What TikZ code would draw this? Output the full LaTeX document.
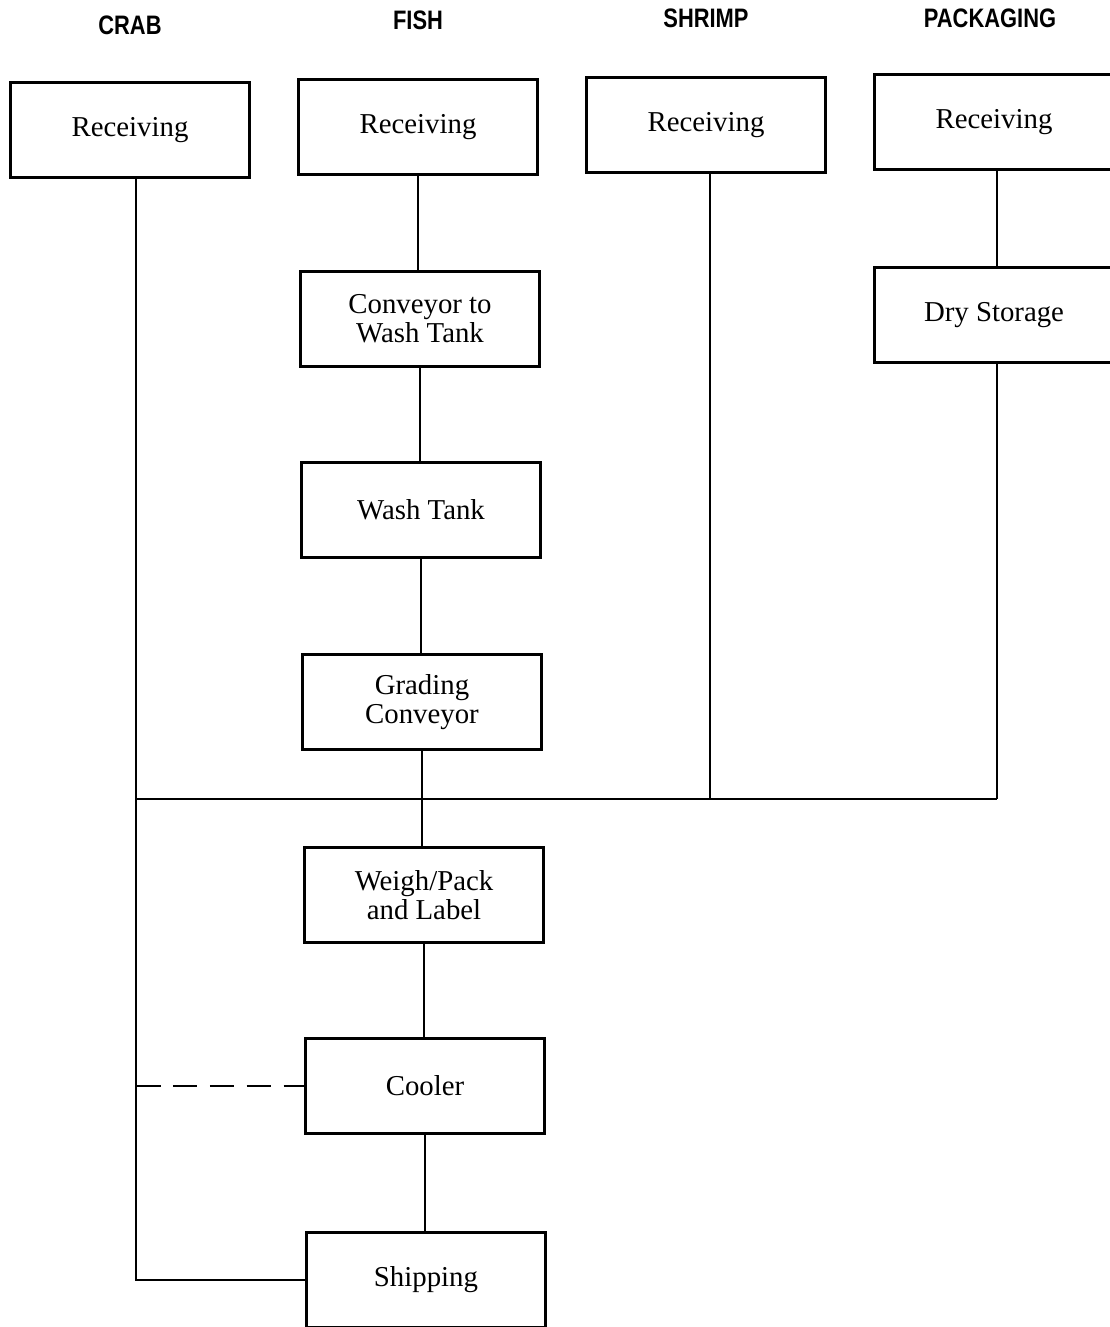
\documentclass[tikz,border=0pt]{standalone}
\usepackage{fontspec}
\setmainfont{Liberation Serif}
\newfontfamily\hdfont[FakeStretch=0.82]{Liberation Sans}
\usepackage{tikz}
\usetikzlibrary{positioning, calc}

\begin{document}
\begin{tikzpicture}[x=0.02cm, y=-0.02cm,
  stepbox/.style={draw, line width=1.2pt, fill=white, minimum width=4.78cm, minimum height=1.9cm,
    align=center, font=\fontsize{16.4}{16.4}\selectfont, inner sep=2pt},
  head/.style={font=\hdfont\bfseries\fontsize{15.2}{15.2}\selectfont},
  flow/.style={line width=1pt}]
\useasboundingbox (0,0) rectangle (1109,1327);

% Column headings
\node[head] (hcrab) at (130, 25) {CRAB};
\node[head] (hfish) at (418, 20) {FISH};
\node[head] (hshrimp) at (706, 18) {SHRIMP};
\node[head] (hpack) at (990, 18) {PACKAGING};

% Receiving boxes
\node[stepbox] (crabrec) at (130, 130) {Receiving};
\node[stepbox] (fishrec) at (418, 127) {Receiving};
\node[stepbox] (shrimprec) at (706, 125) {Receiving};
\node[stepbox] (packrec) at (994, 122) {Receiving};

% Fish line
\node[stepbox] (convey) at (420, 319) {Conveyor to\\Wash Tank};
\node[stepbox] (wash) at (421, 510) {Wash Tank};
\node[stepbox] (grading) at (422, 702) {Grading\\Conveyor};
\node[stepbox] (weigh) at (424, 895) {Weigh/Pack\\and Label};
\node[stepbox] (cooler) at (425, 1086) {Cooler};
\node[stepbox] (shipping) at (426, 1280) {Shipping};

% Packaging line
\node[stepbox] (drystore) at (994, 315) {Dry Storage};

% Join points
\coordinate (crabjoin) at (136, 799);
\coordinate (crabend) at (136, 1280);
\coordinate (shrimpend) at (710, 799);
\coordinate (packend) at (997, 799);

% Fish connectors
\draw[flow] (fishrec.south) -- (fishrec.south |- convey.north);
\draw[flow] (convey.south) -- (convey.south |- wash.north);
\draw[flow] (wash.south) -- (wash.south |- grading.north);
\draw[flow] (grading.south) -- (grading.south |- weigh.north);
\draw[flow] (weigh.south) -- (weigh.south |- cooler.north);
\draw[flow] (cooler.south) -- (cooler.south |- shipping.north);

% Crab line down to shipping
\draw[flow] (crabrec.south -| crabjoin) -- (crabend) -- (shipping.west);
\draw[flow, dash pattern=on 14pt off 7pt] (crabend |- cooler.west) -- (cooler.west);

% Shrimp and packaging lines
\draw[flow] (shrimprec.south -| shrimpend) -- (shrimpend);
\draw[flow] (packrec.south -| packend) -- (packend |- drystore.north);
\draw[flow] (drystore.south -| packend) -- (packend);

% Common cross line
\draw[flow] (crabjoin) -- (packend);
\end{tikzpicture}
\end{document}
